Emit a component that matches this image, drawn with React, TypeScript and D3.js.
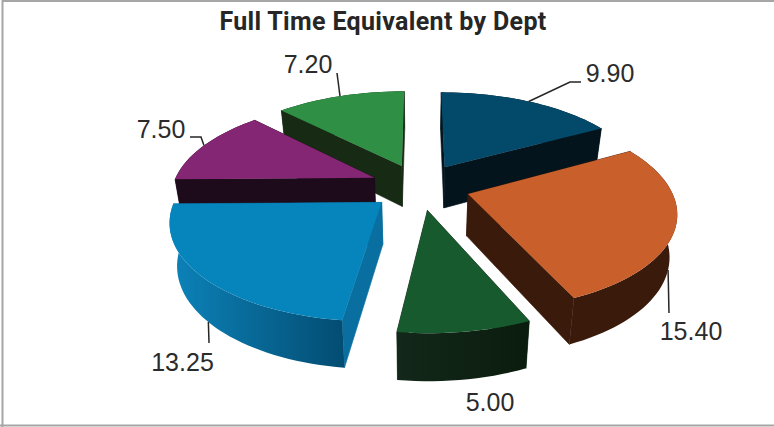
import * as React from "react";
import * as d3 from "d3";

// chart values, clockwise from 12 o'clock
const departments = ["A", "B", "C", "D", "E", "F"];
const fte = [9.9, 15.4, 5.0, 13.25, 7.5, 7.2];
const valueLabels = ["9.90", "15.40", "5.00", "13.25", "7.50", "7.20"];

// colours
const topColors = ["#03496a", "#c95f2a", "#175a2d", "#0684bc", "#842673", "#2f8f45"];
const rimStart = ["#04141c", "#3a1a0a", "#0a1c0d", "#034d73", "#1d0b1b", "#172a14"];
const rimEnd = ["#04141c", "#3a1a0a", "#13281a", "#0c82b8", "#1d0b1b", "#172a14"];
const faceColors = ["#04141c", "#3a1a0a", "#10261a", "#086fa0", "#1d0b1b", "#172a14"];

// back to front
const drawOrder = [0, 5, 4, 1, 2, 3];

const WIDTH = 774;
const HEIGHT = 427;
const CX = 420;
const CY = 186.5;
const R = 202;
const TILT = 0.462;
const PERSPECTIVE = 0.167;
const EXPLODE = 50;
const DEPTH = 41.5;
const BOTTOM_SCALE = 0.97;

// label position, and the leader line between the slice and the label
const labelPos: [number, number][] = [
  [610, 82],
  [691, 340],
  [490, 411],
  [182.5, 371],
  [161, 138],
  [308, 73],
];
const leaderBends: [number, number][][] = [
  [[570, 82], [581, 82]],
  [[669, 313]],
  [],
  [[209, 343]],
  [[201, 137], [190, 137]],
  [[337, 73]],
];
const leaderOnBase = [false, true, false, true, false, false];

const pieGen = d3.pie<number>().sort(null).startAngle(0).endAngle(2 * Math.PI);

type Pt = [number, number];

function project(a: number, r: number, mid: number, base: boolean): Pt {
  const X = EXPLODE * Math.sin(mid) + r * Math.sin(a);
  const Y = EXPLODE * Math.cos(mid) + r * Math.cos(a);
  const f = 1 / (1 + (PERSPECTIVE * Y) / R);
  const s = base ? BOTTOM_SCALE : 1;
  return [CX + X * f * s, CY - TILT * Y * f * s + (base ? DEPTH * f : 0)];
}

const line = d3.line();

function Slice({ i, arc }: { i: number; arc: d3.PieArcDatum<number> }) {
  const mid = (arc.startAngle + arc.endAngle) / 2;
  const n = Math.max(4, Math.round((arc.endAngle - arc.startAngle) / 0.035));
  const angles = d3.range(n + 1).map((k) => arc.startAngle + ((arc.endAngle - arc.startAngle) * k) / n);

  const top = angles.map((a) => project(a, R, mid, false));
  const base = angles.map((a) => project(a, R, mid, true));
  const apex = project(0, 0, mid, false);
  const apexBase = project(0, 0, mid, true);
  const gradId = "rim" + i;

  return (
    <g>
      <linearGradient
        id={gradId}
        gradientUnits="userSpaceOnUse"
        x1={top[0][0]}
        y1={0}
        x2={top[n][0]}
        y2={0}
      >
        <stop offset="0" stopColor={rimStart[i]} />
        <stop offset="1" stopColor={rimEnd[i]} />
      </linearGradient>
      {/* radial walls, then the outer wall over their seam */}
      <path d={line([apex, top[0], base[0], apexBase])! + "Z"} fill={faceColors[i]} stroke={faceColors[i]} strokeWidth={0.6} />
      <path d={line([apex, top[n], base[n], apexBase])! + "Z"} fill={faceColors[i]} stroke={faceColors[i]} strokeWidth={0.6} />
      <path d={line([...top, ...base.slice().reverse()])! + "Z"} fill={`url(#${gradId})`} />
      <path d={line([apex, ...top])! + "Z"} fill={topColors[i]} />
    </g>
  );
}

export default function App() {
  const arcs = pieGen(fte);
  return (
    <svg
      width={WIDTH}
      height={HEIGHT}
      style={{ position: "absolute", left: 0, top: 0, background: "#fff" }}
      fontFamily="'Liberation Sans', Arial, sans-serif"
    >
      <path d={line([[2.5, HEIGHT], [2.5, 1], [WIDTH, 1]])!} fill="none" stroke="#a6a6a6" strokeWidth={2} />
      <path d={line([[0, 425.5], [WIDTH, 425.5]])!} fill="none" stroke="#a6a6a6" strokeWidth={2} />
      <text x={383} y={30} textAnchor="middle" fontFamily="Roboto" fontWeight={700} fontSize={25} letterSpacing={0.33} fill="#262626">
        Full Time Equivalent by Dept
      </text>
      {drawOrder.map((i) => (
        <Slice key={departments[i]} i={i} arc={arcs[i]} />
      ))}
      {arcs.map((arc, i) => {
        const mid = (arc.startAngle + arc.endAngle) / 2;
        const bends = leaderBends[i];
        if (!bends.length) return null;
        const start = project(mid, R, mid, leaderOnBase[i]);
        return (
          <path
            key={i}
            d={line([start, ...bends] as Pt[])!}
            fill="none"
            stroke="#262626"
            strokeWidth={1.5}
          />
        );
      })}
      {valueLabels.map((t, i) => (
        <text key={t} x={labelPos[i][0]} y={labelPos[i][1]} textAnchor="middle" fontSize={25} fill="#2b2b2b">
          {t}
        </text>
      ))}
    </svg>
  );
}
